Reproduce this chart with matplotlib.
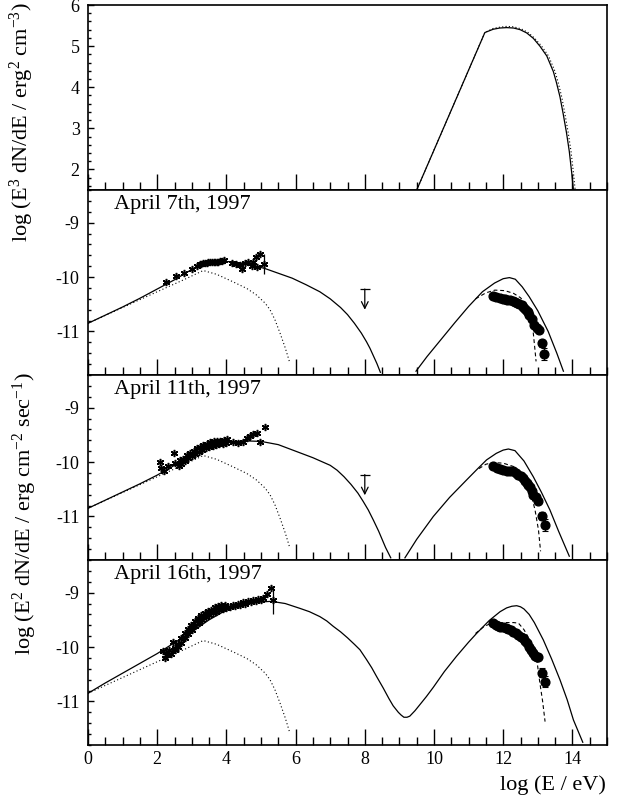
import matplotlib
matplotlib.use("Agg")
import matplotlib.pyplot as plt
from matplotlib.ticker import MultipleLocator

plt.rcParams['font.family'] = ['Liberation Serif', 'DejaVu Serif']
plt.rcParams['mathtext.fontset'] = 'custom'
plt.rcParams['mathtext.rm'] = 'Liberation Serif'
plt.rcParams['mathtext.it'] = 'Liberation Serif:italic'
plt.rcParams['axes.unicode_minus'] = False

# ---- top panel: E^3 dN/dE ----
top_x = [9.5, 11.47, 11.71, 11.9, 12.10, 12.3, 12.49, 12.68, 12.87, 13.06, 13.26, 13.35,
         13.45, 13.54, 13.64, 13.73, 13.83, 13.91, 13.98, 14.03]
top_y = [1.5, 5.33, 5.41, 5.44, 5.45, 5.44, 5.40, 5.32, 5.19, 5.00, 4.76, 4.58, 4.38,
         4.11, 3.77, 3.37, 2.89, 2.44, 1.92, 1.5]
top_dot_x = [9.5, 11.47, 11.71, 11.9, 12.10, 12.3, 12.52, 12.72, 12.91, 13.11, 13.31,
             13.40, 13.50, 13.59, 13.69, 13.78, 13.88, 13.96, 14.03, 14.08]
top_dot_y = [1.5, 5.33, 5.43, 5.46, 5.48, 5.47, 5.42, 5.33, 5.19, 5.00, 4.76, 4.58,
             4.38, 4.11, 3.77, 3.37, 2.89, 2.44, 1.92, 1.5]

# ---- common dotted synchrotron component ----
dot_x = [0, 1.0, 2.0, 2.8, 3.33, 3.72, 4.20, 4.59, 4.87, 5.12, 5.26, 5.40, 5.55, 5.70, 5.82]
dot_y = [-10.85, -10.56, -10.27, -10.04, -9.88, -9.95, -10.09, -10.21, -10.33, -10.48,
         -10.60, -10.78, -11.03, -11.30, -11.55]

# ---- April 7th ----
a7_sync_x = [0, 0.5, 1.0, 1.5, 2.0, 2.5, 3.0, 3.4, 3.8, 4.2, 4.7, 5.1, 5.5, 5.9, 6.3,
             6.7, 7.0, 7.3, 7.5, 7.7, 7.9, 8.05, 8.15, 8.25, 8.35, 8.45]
a7_sync_y = [-10.85, -10.70, -10.55, -10.39, -10.22, -10.05, -9.86, -9.76, -9.71, -9.72,
             -9.78, -9.84, -9.93, -10.02, -10.14, -10.27, -10.40, -10.56, -10.69, -10.85,
             -11.03, -11.19, -11.31, -11.45, -11.59, -11.75]
a7_ic_x = [9.48, 9.8, 10.2, 10.6, 11.0, 11.4, 11.75, 12.0, 12.18, 12.35, 12.55, 12.75,
           13.0, 13.3, 13.55, 13.74]
a7_ic_y = [-11.73, -11.46, -11.15, -10.84, -10.54, -10.27, -10.11, -10.03, -10.01, -10.04,
           -10.18, -10.36, -10.62, -11.0, -11.4, -11.73]
a7_dash_x = [11.2, 11.5, 11.76, 12.05, 12.3, 12.5, 12.68, 12.79, 12.87, 12.92, 12.95]
a7_dash_y = [-10.40, -10.29, -10.24, -10.25, -10.30, -10.38, -10.51, -10.73, -11.03,
             -11.35, -11.55]
a7_tev_x = [11.71, 11.80, 11.91, 11.98, 12.05, 12.12, 12.20, 12.27, 12.34, 12.41, 12.47,
            12.53, 12.58, 12.63, 12.68, 12.72, 12.76, 12.82, 12.89, 12.97, 13.04, 13.11,
            13.18]
a7_tev_y = [-10.34, -10.37, -10.39, -10.40, -10.41, -10.42, -10.43, -10.44, -10.45,
            -10.47, -10.49, -10.52, -10.55, -10.58, -10.62, -10.65, -10.69, -10.77, -10.88,
            -10.94, -10.98, -11.22, -11.41]
a7_tev_err = [0] * 21 + [0.07, 0.11]
a7_xr_x = [2.25, 2.54, 2.77, 3.0, 3.14, 3.24, 3.28, 3.33, 3.38, 3.43, 3.48, 3.53, 3.58,
           3.63, 3.68, 3.72, 3.77, 3.82, 3.87, 3.93, 4.15, 4.28, 4.38, 4.44, 4.54, 4.63,
           4.73, 4.78, 4.86, 4.89, 4.97, 5.09]
a7_xr_y = [-10.10, -9.98, -9.93, -9.86, -9.79, -9.76, -9.76, -9.75, -9.74, -9.74, -9.73,
           -9.73, -9.73, -9.73, -9.72, -9.72, -9.72, -9.71, -9.70, -9.68, -9.74, -9.76,
           -9.77, -9.86, -9.75, -9.72, -9.80, -9.72, -9.64, -9.82, -9.58, -9.76]
a7_xr_err = [0] * 31 + [0.18]

# ---- April 11th ----
a11_sync_x = [0, 0.5, 1.0, 1.5, 2.0, 2.5, 3.0, 3.5, 4.0, 4.5, 5.0, 5.5, 6.0, 6.5, 7.0,
              7.2, 7.4, 7.6, 7.8, 7.95, 8.1, 8.25, 8.4, 8.5, 8.6, 8.75]
a11_sync_y = [-10.85, -10.70, -10.55, -10.40, -10.24, -10.06, -9.88, -9.74, -9.65, -9.61,
              -9.62, -9.68, -9.80, -9.92, -10.06, -10.15, -10.27, -10.41, -10.57, -10.72,
              -10.88, -11.07, -11.27, -11.42, -11.57, -11.76]
a11_ic_x = [9.16, 9.5, 9.98, 10.45, 10.94, 11.25, 11.52, 11.8, 12.0, 12.15, 12.34, 12.6,
            12.87, 13.1, 13.35, 13.6, 13.91]
a11_ic_y = [-11.76, -11.42, -11.00, -10.65, -10.33, -10.13, -9.96, -9.84, -9.78, -9.76,
            -9.79, -9.98, -10.27, -10.55, -10.88, -11.27, -11.73]
a11_dash_x = [11.3, 11.5, 11.71, 12.0, 12.29, 12.5, 12.77, 12.92, 13.02, 13.08]
a11_dash_y = [-10.12, -10.04, -10.01, -10.02, -10.08, -10.22, -10.51, -10.88, -11.25, -11.64]
a11_tev_x = [11.71, 11.81, 11.91, 12.0, 12.10, 12.20, 12.29, 12.37, 12.44, 12.50, 12.56,
             12.62, 12.68, 12.72, 12.77, 12.82, 12.87, 12.95, 13.02, 13.11, 13.20]
a11_tev_y = [-10.08, -10.11, -10.13, -10.15, -10.16, -10.16, -10.17, -10.20, -10.23,
             -10.26, -10.30, -10.34, -10.38, -10.42, -10.46, -10.53, -10.60, -10.64, -10.72,
             -10.99, -11.15]
a11_tev_err = [0] * 19 + [0.08, 0.11]
a11_xr_x = [2.08, 2.11, 2.21, 2.30, 2.49, 2.52, 2.62, 2.66, 2.76, 2.85, 2.95, 3.05, 3.14,
            3.24, 3.33, 3.43, 3.53, 3.63, 3.72, 3.82, 3.92, 4.01, 4.20, 4.34, 4.49, 4.59,
            4.68, 4.78, 4.88, 4.97, 5.12,
            2.7, 2.8, 2.9, 3.0, 3.1, 3.2, 3.3, 3.4, 3.5, 3.6, 3.7, 3.8, 3.9, 4.0]
a11_xr_y = [-9.99, -10.11, -10.17, -10.08, -9.84, -10.01, -10.08, -9.96, -9.95, -9.87,
            -9.83, -9.79, -9.75, -9.72, -9.69, -9.67, -9.64, -9.62, -9.61, -9.61, -9.59,
            -9.58, -9.64, -9.65, -9.64, -9.56, -9.53, -9.48, -9.46, -9.64, -9.35,
            -10.03, -9.98, -9.93, -9.89, -9.85, -9.81, -9.78, -9.75, -9.72, -9.70, -9.68,
            -9.67, -9.66, -9.65]

# ---- April 16th ----
a16_x = [0, 0.5, 1.0, 1.5, 2.0, 2.5, 3.0, 3.5, 4.0, 4.5, 5.0, 5.3, 5.7, 6.13, 6.4, 6.7,
         6.9, 7.09, 7.3, 7.5, 7.7, 7.86, 8.05, 8.2, 8.34, 8.53, 8.7, 8.82, 8.97, 9.05, 9.13,
         9.22, 9.3, 9.45, 9.59, 9.78, 9.98, 10.3, 10.65, 11.0, 11.23, 11.6, 11.91, 12.1,
         12.25, 12.39, 12.5, 12.6, 12.75, 12.9, 13.16, 13.4, 13.64, 13.85, 14.03, 14.30]
a16_y = [-10.85, -10.66, -10.48, -10.30, -10.12, -9.92, -9.72, -9.50, -9.32, -9.22, -9.17,
         -9.16, -9.20, -9.29, -9.35, -9.44, -9.52, -9.62, -9.72, -9.83, -9.95, -10.05,
         -10.23, -10.38, -10.54, -10.75, -10.95, -11.08, -11.20, -11.25, -11.29, -11.29,
         -11.27, -11.17, -11.06, -10.91, -10.74, -10.45, -10.17, -9.91, -9.75, -9.51,
         -9.35, -9.28, -9.25, -9.24, -9.26, -9.30, -9.40, -9.55, -9.87, -10.22, -10.60,
         -10.97, -11.34, -11.75]
a16_dash_x = [11.2, 11.45, 11.67, 12.0, 12.3, 12.44, 12.6, 12.77, 12.97, 13.06, 13.14, 13.21]
a16_dash_y = [-9.75, -9.62, -9.56, -9.55, -9.55, -9.56, -9.68, -9.87, -10.23, -10.66,
              -11.0, -11.37]
a16_tev_x = [11.71, 11.78, 11.85, 11.92, 12.0, 12.08, 12.15, 12.22, 12.29, 12.37, 12.44,
             12.50, 12.56, 12.62, 12.68, 12.74, 12.79, 12.86, 12.92, 12.97, 13.02, 13.11,
             13.20]
a16_tev_y = [-9.56, -9.59, -9.61, -9.63, -9.64, -9.65, -9.66, -9.69, -9.72, -9.75, -9.78,
             -9.81, -9.84, -9.88, -9.93, -9.99, -10.05, -10.11, -10.16, -10.18, -10.19,
             -10.47, -10.64]
a16_tev_err = [0] * 21 + [0.08, 0.10]
a16_xr_x = [2.18, 2.22, 2.27, 2.35, 2.46, 2.51, 2.60, 2.70, 2.79, 2.89, 2.98, 3.08, 3.18,
            3.27, 3.37, 3.47, 3.56, 3.66, 3.75, 3.85, 3.97, 4.20, 4.34, 4.49, 4.63, 4.78,
            4.92, 5.07, 5.16, 5.28, 5.36,
            2.4, 2.5, 2.6, 2.7, 2.8, 2.9, 3.0, 3.1, 3.2, 3.3, 3.4, 3.5, 3.6, 3.7, 3.8, 3.9,
            4.0, 4.1, 4.25, 4.4, 4.55, 4.7, 4.85, 5.0]
a16_xr_y = [-10.08, -10.20, -10.14, -10.05, -9.90, -10.02, -9.94, -9.84, -9.75, -9.67,
            -9.59, -9.53, -9.47, -9.41, -9.37, -9.33, -9.31, -9.27, -9.24, -9.23, -9.23,
            -9.23, -9.21, -9.18, -9.16, -9.13, -9.12, -9.10, -9.02, -8.92, -9.13,
            -10.12, -10.06, -9.99, -9.92, -9.84, -9.76, -9.68, -9.62, -9.56, -9.50, -9.45,
            -9.41, -9.38, -9.35, -9.32, -9.30, -9.29, -9.27, -9.25, -9.22, -9.20, -9.17,
            -9.15, -9.14]
a16_xr_err = [0] * 30 + [0.26] + [0] * 24

# upper limit at 10^8 eV (April 7th and 11th)
ul_x = [8.0, 8.0]
ul_y = [-10.22, -10.23]
ul_len = 0.38

dates = ["April 7th, 1997", "April 11th, 1997", "April 16th, 1997"]

fig = plt.figure(figsize=(6.19, 7.99), dpi=100)
L, W, H = 88 / 619, 519 / 619, 185 / 799
bottoms = [1 - 190 / 799, 1 - 375 / 799, 1 - 560 / 799, 1 - 745 / 799]
axes = [fig.add_axes([L, b, W, H]) for b in bottoms]

lw = 0.9


def style(ax, ylim, labels):
    ax.set_xlim(0, 15)
    ax.set_ylim(*ylim)
    ax.xaxis.set_major_locator(MultipleLocator(2))
    ax.xaxis.set_minor_locator(MultipleLocator(0.5))
    ax.yaxis.set_major_locator(MultipleLocator(1))
    ax.yaxis.set_minor_locator(MultipleLocator(0.2))
    ax.tick_params(axis='both', which='both', direction='in', top=False, right=False,
                   labelsize=13, width=1.0, color='black')
    ax.tick_params(axis='x', which='major', length=11.5, pad=4)
    ax.tick_params(axis='x', which='minor', length=5.8)
    ax.tick_params(axis='y', which='major', length=4.5, pad=6)
    ax.tick_params(axis='y', which='minor', length=2.3)
    if not labels:
        ax.tick_params(axis='x', labelbottom=False)
    for s in ax.spines.values():
        s.set_linewidth(1.2)


# top panel
ax = axes[0]
ax.plot(top_x, top_y, color='black', lw=lw)
ax.plot(top_dot_x, top_dot_y, color='black', lw=0.8, ls=(0, (1, 2)))
style(ax, (1.5, 6), False)

panels = [
    (a7_sync_x, a7_sync_y, a7_ic_x, a7_ic_y, a7_dash_x, a7_dash_y, a7_tev_x, a7_tev_y,
     a7_tev_err, a7_xr_x, a7_xr_y, a7_xr_err, True),
    (a11_sync_x, a11_sync_y, a11_ic_x, a11_ic_y, a11_dash_x, a11_dash_y, a11_tev_x,
     a11_tev_y, a11_tev_err, a11_xr_x, a11_xr_y, None, True),
    (a16_x, a16_y, None, None, a16_dash_x, a16_dash_y, a16_tev_x, a16_tev_y, a16_tev_err,
     a16_xr_x, a16_xr_y, a16_xr_err, False),
]

for i, (ax, p) in enumerate(zip(axes[1:], panels)):
    sx, sy, icx, icy, dx, dy, tx, ty, terr, xx, xy, xerr, has_ul = p
    ax.plot(sx, sy, color='black', lw=lw)
    if icx is not None:
        ax.plot(icx, icy, color='black', lw=lw)
    ax.plot(dot_x, dot_y, color='black', lw=0.8, ls=(0, (1, 2.2)))
    ax.plot(dx, dy, color='black', lw=0.8, ls=(0, (3.5, 2.5)))
    ax.errorbar(tx, ty, yerr=terr, fmt='o', color='black', ms=6.3, elinewidth=0.8,
                capsize=2.5, capthick=0.8)
    ax.errorbar(xx, xy, yerr=xerr, fmt='none', ecolor='black', elinewidth=0.9, capsize=0)
    ax.plot(xx, xy, ls='none', marker=(6, 2, 0), ms=5.2, mew=1.1, color='black')
    if has_ul:
        ax.annotate('', xy=(ul_x[i], ul_y[i] - ul_len), xytext=(ul_x[i], ul_y[i]),
                    arrowprops=dict(arrowstyle='->', lw=0.9, color='black',
                                    shrinkA=0, shrinkB=0, mutation_scale=12))
        ax.plot([ul_x[i]], [ul_y[i]], marker='_', ms=7, mew=0.9, color='black')
    ax.text(0.05, 0.895, dates[i], transform=ax.transAxes, fontsize=16,
            ha='left', va='baseline')
    style(ax, (-11.8, -8.4), i == 2)

fig.text(0.036, 0.997, r"log (E$^{3}$ dN/dE / erg$^{2}$ cm$^{-3}$)", rotation=90,
         ha='center', va='top', fontsize=16)
fig.text(0.040, 0.357, r"log (E$^{2}$ dN/dE / erg cm$^{-2}$ sec$^{-1}$)", rotation=90,
         ha='center', va='center', fontsize=16)
fig.text(606 / 619, 1 - 790 / 799, "log (E / eV)", ha='right', va='baseline', fontsize=16)

fig.savefig("out.png", dpi=100)
